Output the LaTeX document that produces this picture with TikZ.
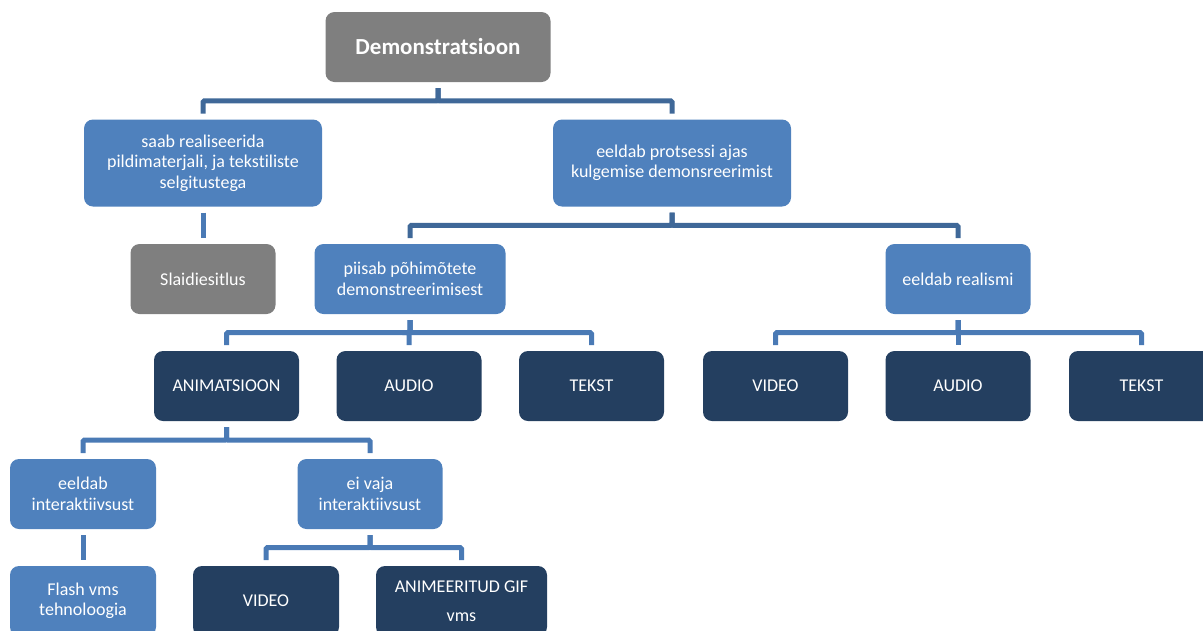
\documentclass[tikz,border=0pt]{standalone}
\usepackage{fontspec}
\setmainfont{Carlito}[Ligatures={NoCommon}]
\usetikzlibrary{calc}
\definecolor{boxgray}{HTML}{7F7F7F}
\definecolor{boxblue}{HTML}{4F81BD}
\definecolor{boxnavy}{HTML}{243F60}
\definecolor{linkdark}{HTML}{3F6898}
\definecolor{linkblue}{HTML}{4A7AB5}
\begin{document}
\begin{tikzpicture}[x=1pt,y=-1pt,
  box/.style={rectangle, rounded corners=9pt, text=white, align=center,
    font=\fontsize{18}{20.5}\selectfont, inner sep=2pt, outer sep=0pt,
    minimum height=70pt},
  graybox/.style={box, fill=boxgray},
  bluebox/.style={box, fill=boxblue},
  navybox/.style={box, fill=boxnavy},
  link/.style={draw=linkblue, line width=5pt, shorten <=6pt, shorten >=6pt,
    rounded corners=1.5pt},
  uplink/.style={link, draw=linkdark},
  branch/.style={to path={(\tikztostart) |- ($(\tikztostart)!0.5!(\tikztotarget)$) -| (\tikztotarget)}}
]
\useasboundingbox (0,0) rectangle (1203,630);
\clip (0,0) rectangle (1203,630);

% level 0
\node[graybox, minimum width=225pt, font=\fontsize{23}{26}\selectfont\bfseries] (demo) at (438,47) {Demonstratsioon};

% level 1
\node[bluebox, minimum width=238pt, minimum height=87pt] (saab) at (203,163)
  {saab realiseerida\\pildimaterjali, ja tekstiliste\\selgitustega};
\node[bluebox, minimum width=238pt, minimum height=87pt] (proc) at (672,163)
  {eeldab protsessi ajas\\kulgemise demonsreerimist};

% level 2
\node[graybox, minimum width=145pt] (slaid) at (203,279) {Slaidiesitlus};
\node[bluebox, minimum width=191pt] (piisab) at (410,279) {piisab põhimõtete\\demonstreerimisest};
\node[bluebox, minimum width=145pt] (real) at (958,279) {eeldab realismi};

% level 3
\node[navybox, minimum width=145pt] (anim) at (226.5,386) {ANIMATSIOON};
\node[navybox, minimum width=145pt] (aud1) at (409,386) {AUDIO};
\node[navybox, minimum width=145pt] (tek1) at (591.5,386) {TEKST};
\node[navybox, minimum width=145pt] (vid1) at (775.5,386) {VIDEO};
\node[navybox, minimum width=145pt] (aud2) at (958,386) {AUDIO};
\node[navybox, minimum width=145pt] (tek2) at (1141.5,386) {TEKST};

% level 4
\node[bluebox, minimum width=146pt] (eint) at (83,494) {eeldab\\interaktiivsust};
\node[bluebox, minimum width=145pt] (eivaja) at (370,494) {ei vaja\\interaktiivsust};

% level 5
\node[bluebox, minimum width=146pt] (flash) at (83,601) {Flash vms\\tehnoloogia};
\node[navybox, minimum width=146pt] (vid2) at (266,601) {VIDEO};
\node[navybox, minimum width=171pt] (gif) at (461.5,601) {ANIMEERITUD GIF\\[9pt]vms};

% connectors
\draw[uplink] (demo.south) to[branch] (saab.north);
\draw[uplink] (demo.south) to[branch] (proc.north);
\draw[link] (saab.south) to[branch] (slaid.north);
\draw[uplink] (proc.south) to[branch] (piisab.north);
\draw[uplink] (proc.south) to[branch] (real.north);
\draw[link] (piisab.south) to[branch] (anim.north);
\draw[link] (piisab.south) to[branch] (aud1.north);
\draw[link] (piisab.south) to[branch] (tek1.north);
\draw[link] (real.south) to[branch] (vid1.north);
\draw[link] (real.south) to[branch] (aud2.north);
\draw[link] (real.south) to[branch] (tek2.north);
\draw[link] (anim.south) to[branch] (eint.north);
\draw[link] (anim.south) to[branch] (eivaja.north);
\draw[link] (eint.south) to[branch] (flash.north);
\draw[link] (eivaja.south) to[branch] (vid2.north);
\draw[link] (eivaja.south) to[branch] (gif.north);
\end{tikzpicture}
\end{document}
